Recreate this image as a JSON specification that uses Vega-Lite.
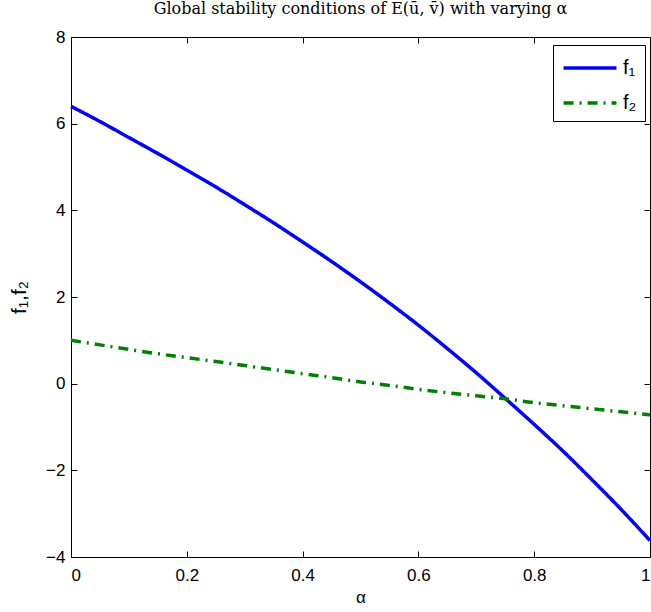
{
  "$schema": "https://vega.github.io/schema/vega-lite/v6.json",
  "width": 579,
  "height": 520,
  "autosize": {"type": "none"},
  "padding": {"left": 71, "top": 37, "right": 1, "bottom": 55},
  "background": "white",
  "title": {"text": "Global stability conditions of E(ū, v̄) with varying α", "font": "DejaVu Serif", "fontSize": 16, "fontWeight": "normal", "color": "black", "anchor": "middle", "offset": 11},
  "config": {
    "view": {"stroke": "black", "strokeWidth": 1},
    "axis": {"grid": false, "domainColor": "black", "tickColor": "black", "tickSize": -6, "labelFont": "Liberation Sans", "labelFontSize": 17, "labelColor": "black", "titleFont": "Liberation Sans", "titleFontSize": 17, "titleFontWeight": "normal", "titleColor": "black"}
  },
  "data": {"values": [
    {"a": 0.00, "s": "f₁", "v": 6.40}, {"a": 0.05, "s": "f₁", "v": 6.05}, {"a": 0.10, "s": "f₁", "v": 5.68}, {"a": 0.15, "s": "f₁", "v": 5.31},
    {"a": 0.20, "s": "f₁", "v": 4.93}, {"a": 0.25, "s": "f₁", "v": 4.54}, {"a": 0.30, "s": "f₁", "v": 4.13}, {"a": 0.35, "s": "f₁", "v": 3.71},
    {"a": 0.40, "s": "f₁", "v": 3.27}, {"a": 0.45, "s": "f₁", "v": 2.82}, {"a": 0.50, "s": "f₁", "v": 2.35}, {"a": 0.55, "s": "f₁", "v": 1.86},
    {"a": 0.60, "s": "f₁", "v": 1.35}, {"a": 0.65, "s": "f₁", "v": 0.81}, {"a": 0.70, "s": "f₁", "v": 0.25}, {"a": 0.75, "s": "f₁", "v": -0.34},
    {"a": 0.80, "s": "f₁", "v": -0.94}, {"a": 0.85, "s": "f₁", "v": -1.56}, {"a": 0.90, "s": "f₁", "v": -2.22}, {"a": 0.95, "s": "f₁", "v": -2.90},
    {"a": 1.00, "s": "f₁", "v": -3.62},
    {"a": 0.00, "s": "f₂", "v": 1.00}, {"a": 0.05, "s": "f₂", "v": 0.895}, {"a": 0.10, "s": "f₂", "v": 0.79}, {"a": 0.15, "s": "f₂", "v": 0.69},
    {"a": 0.20, "s": "f₂", "v": 0.60}, {"a": 0.25, "s": "f₂", "v": 0.51}, {"a": 0.30, "s": "f₂", "v": 0.42}, {"a": 0.35, "s": "f₂", "v": 0.325},
    {"a": 0.40, "s": "f₂", "v": 0.23}, {"a": 0.45, "s": "f₂", "v": 0.14}, {"a": 0.50, "s": "f₂", "v": 0.04}, {"a": 0.55, "s": "f₂", "v": -0.04},
    {"a": 0.60, "s": "f₂", "v": -0.13}, {"a": 0.65, "s": "f₂", "v": -0.21}, {"a": 0.70, "s": "f₂", "v": -0.28}, {"a": 0.75, "s": "f₂", "v": -0.35},
    {"a": 0.80, "s": "f₂", "v": -0.44}, {"a": 0.85, "s": "f₂", "v": -0.51}, {"a": 0.90, "s": "f₂", "v": -0.58}, {"a": 0.95, "s": "f₂", "v": -0.65},
    {"a": 1.00, "s": "f₂", "v": -0.72}
  ]},
  "layer": [
    {
      "mark": {"type": "line", "strokeWidth": 0, "strokeOpacity": 0},
      "encoding": {
        "x": {"field": "a", "type": "quantitative", "scale": {"domain": [0, 1], "nice": false}, "axis": {"orient": "top", "values": [0, 0.2, 0.4, 0.6, 0.8, 1], "labels": false, "title": null, "domain": false}},
        "y": {"field": "v", "type": "quantitative", "scale": {"domain": [-4, 8], "nice": false}, "axis": {"orient": "right", "values": [-4, -2, 0, 2, 4, 6, 8], "labels": false, "title": null, "domain": false}},
        "detail": {"field": "s"}
      }
    },
    {
      "mark": {"type": "line", "strokeWidth": 3.5, "interpolate": "monotone"},
      "encoding": {
        "x": {"field": "a", "type": "quantitative", "scale": {"domain": [0, 1], "nice": false}, "axis": {"orient": "bottom", "values": [0, 0.2, 0.4, 0.6, 0.8, 1], "format": "~g", "title": "α", "labelPadding": 16, "titlePadding": 6}},
        "y": {"field": "v", "type": "quantitative", "scale": {"domain": [-4, 8], "nice": false}, "axis": {"orient": "left", "values": [-4, -2, 0, 2, 4, 6, 8], "format": "~g", "title": "f₁,f₂", "titleFontSize": 21, "labelPadding": 12, "titlePadding": 16}},
        "color": {"field": "s", "type": "nominal", "scale": {"domain": ["f₁", "f₂"], "range": ["#0000ff", "#008000"]},
          "legend": {"title": null, "orient": "none", "legendX": 482, "legendY": 8, "symbolType": "M-2,0H2", "symbolSize": 700, "symbolStrokeWidth": 3.5, "symbolOffset": 14, "labelFont": "Liberation Sans", "labelFontSize": 20, "labelColor": "black", "strokeColor": "black", "fillColor": "white", "padding": 8, "rowPadding": 10, "labelOffset": 18}},
        "strokeDash": {"field": "s", "type": "nominal", "scale": {"domain": ["f₁", "f₂"], "range": [[1, 0], [10, 6, 2, 6]]}, "legend": {"title": null, "orient": "none", "legendX": 482, "legendY": 8, "symbolType": "M-2,0H2", "symbolSize": 700, "symbolStrokeWidth": 3.5, "symbolOffset": 14, "labelFont": "Liberation Sans", "labelFontSize": 20, "labelColor": "black", "strokeColor": "black", "fillColor": "white", "padding": 8, "rowPadding": 10, "labelOffset": 18}}
      }
    }
  ],
  "resolve": {"axis": {"x": "independent", "y": "independent"}}
}
